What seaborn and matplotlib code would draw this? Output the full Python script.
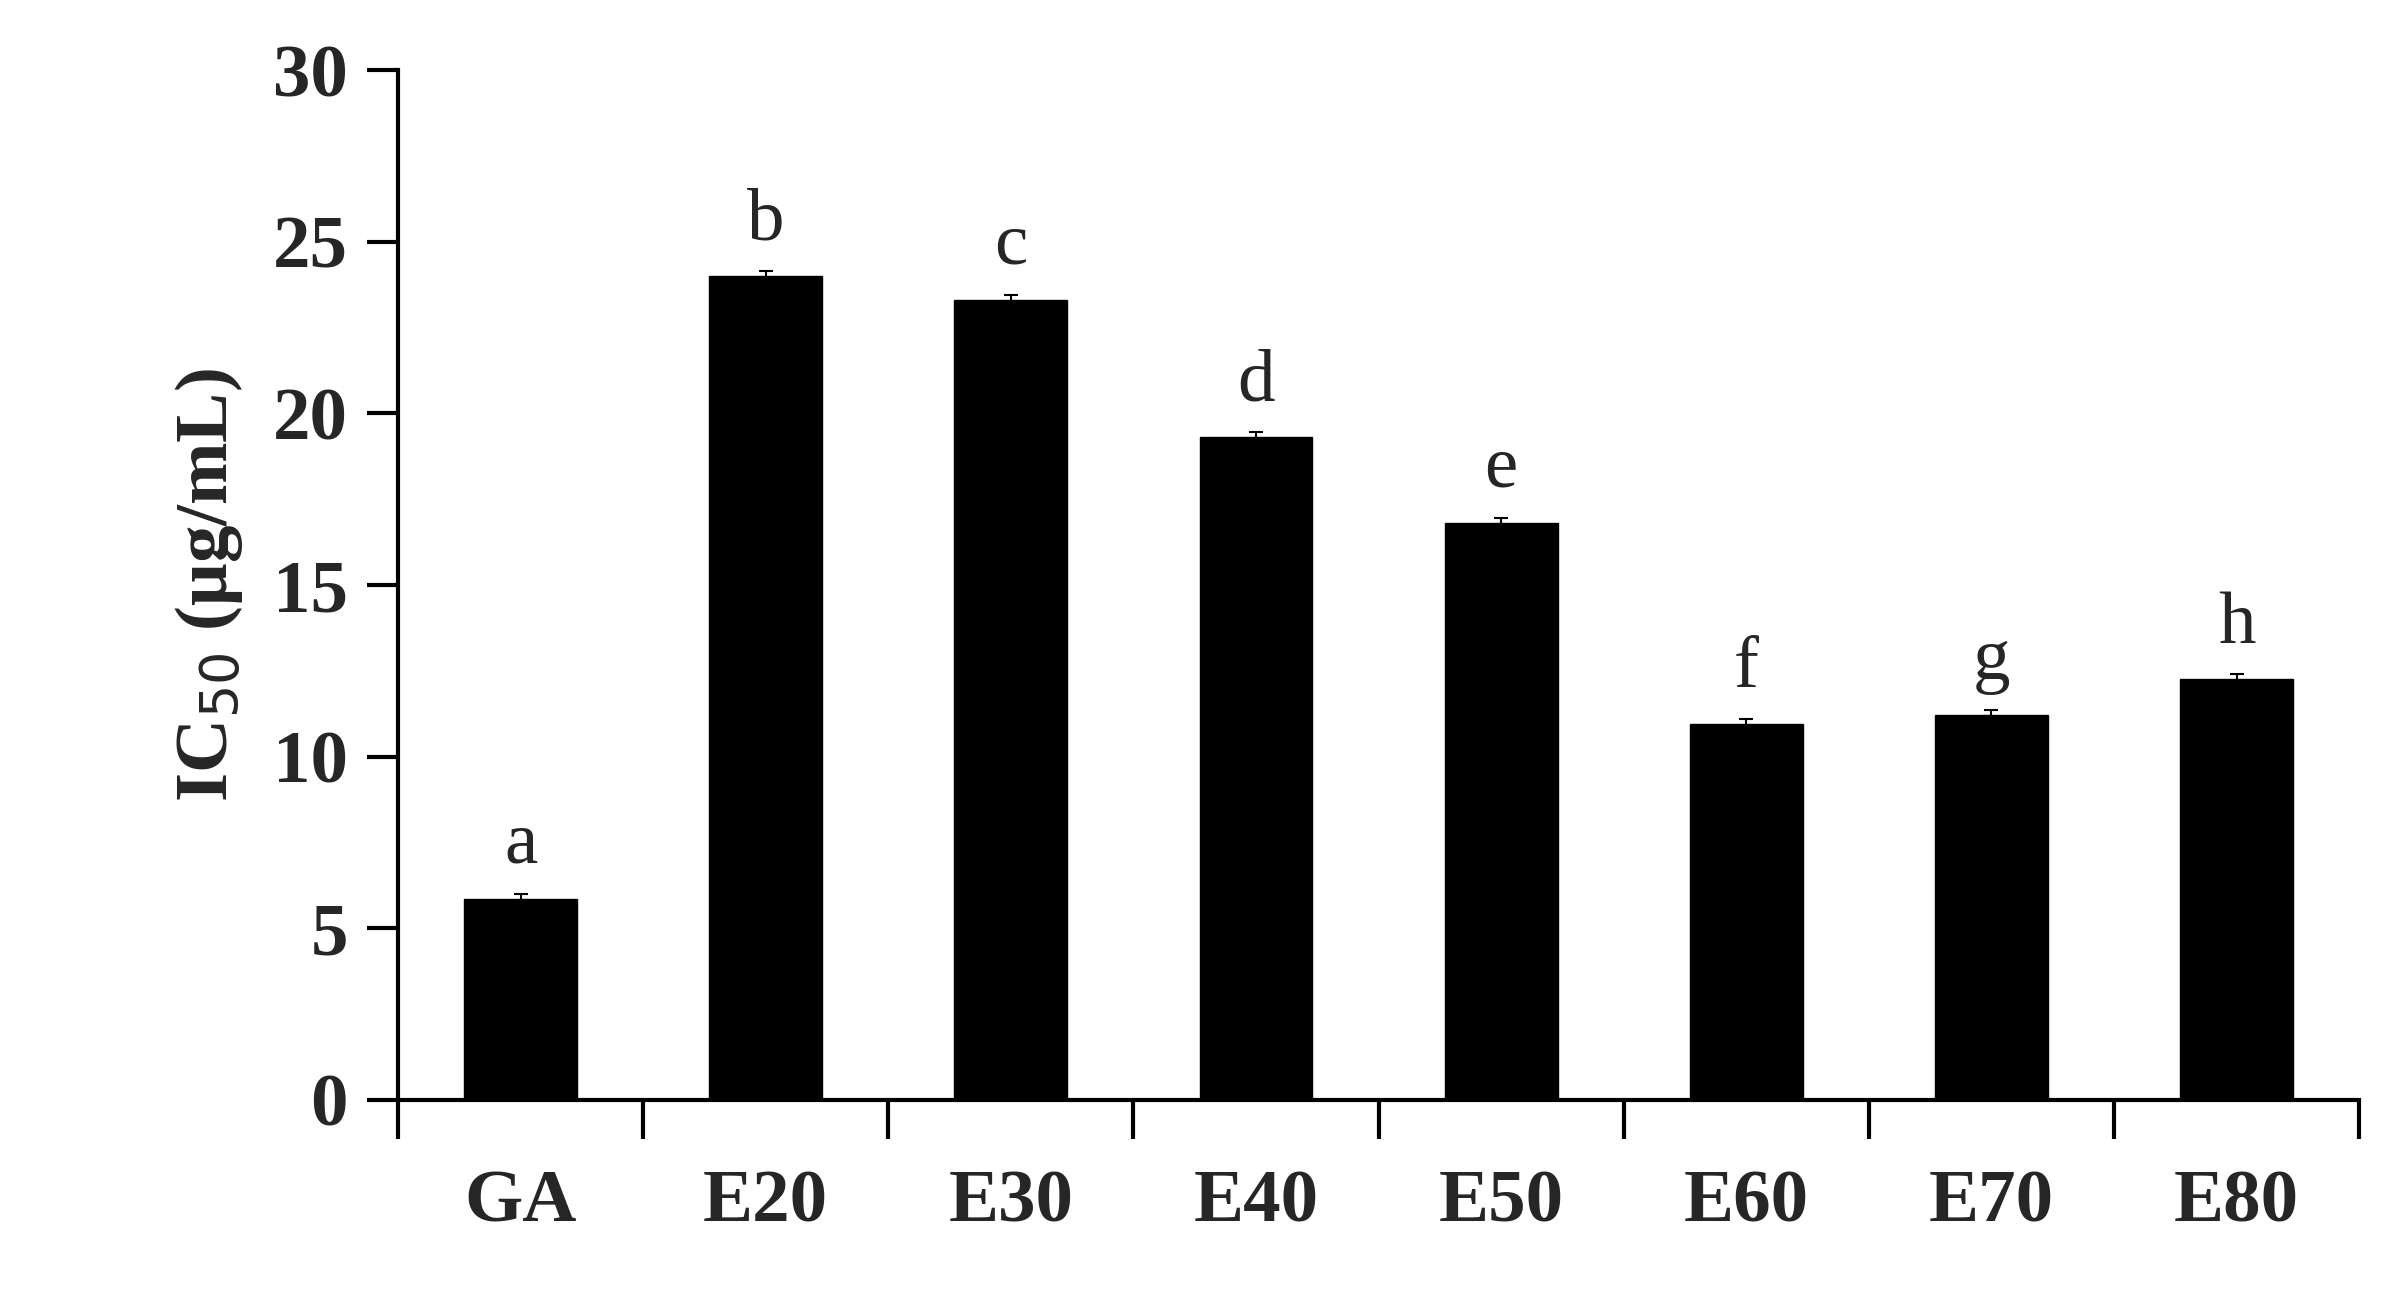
import matplotlib
matplotlib.use("Agg")
import matplotlib.pyplot as plt
import seaborn as sns
import pandas as pd

categories = ["GA", "E20", "E30", "E40", "E50", "E60", "E70", "E80"]
values = [5.85, 24.0, 23.3, 19.3, 16.8, 10.95, 11.2, 12.25]
errors = [0.15, 0.15, 0.15, 0.15, 0.15, 0.15, 0.15, 0.15]
letters = ["a", "b", "c", "d", "e", "f", "g", "h"]

sns.set_theme(style="white")
plt.rcParams['font.family'] = ['Liberation Serif', 'DejaVu Serif']

df = pd.DataFrame({"cat": categories, "val": values})
fig = plt.figure(figsize=(23.83, 13), dpi=100)
ax = fig.add_axes([0.167, 0.154, 0.823, 0.792])
sns.barplot(data=df, x="cat", y="val", color="black", width=0.46, ax=ax, errorbar=None)
for p in ax.patches:
    p.set_facecolor("black"); p.set_edgecolor("black")
ax.errorbar(range(len(values)), values, yerr=errors, fmt="none", ecolor="black",
            elinewidth=1.5, capsize=5, capthick=1.5)
for i, (v, l) in enumerate(zip(values, letters)):
    ax.text(i, v + 0.6, l, ha="center", va="bottom", fontsize=54)

ax.set_xlim(-0.5, 7.5)
ax.set_ylim(0, 30)
ax.set_yticks(range(0, 31, 5))
ax.set_yticklabels([str(t) for t in range(0, 31, 5)], fontsize=54, fontweight="bold")
ax.set_xticks([i + 0.5 for i in range(-1, 8)])
ax.set_xticklabels([])
ax.set_xticks(range(8), minor=True)
ax.set_xticklabels(categories, minor=True, fontsize=54, fontweight="bold")
ax.tick_params(axis="x", which="major", direction="out", length=28, width=3, bottom=True, color="black")
ax.tick_params(axis="x", which="minor", length=0, pad=50)
ax.tick_params(axis="y", direction="out", length=22, width=3, left=True, color="black", pad=14)
ax.set_xlabel("")
ax.set_ylabel(r"IC$_{50}$ (μg/mL)", fontsize=54, fontweight="bold", labelpad=20)
for s in ["top", "right"]:
    ax.spines[s].set_visible(False)
for s in ["left", "bottom"]:
    ax.spines[s].set_linewidth(3); ax.spines[s].set_color("black")
fig.savefig("out.png", dpi=100, facecolor="white")
